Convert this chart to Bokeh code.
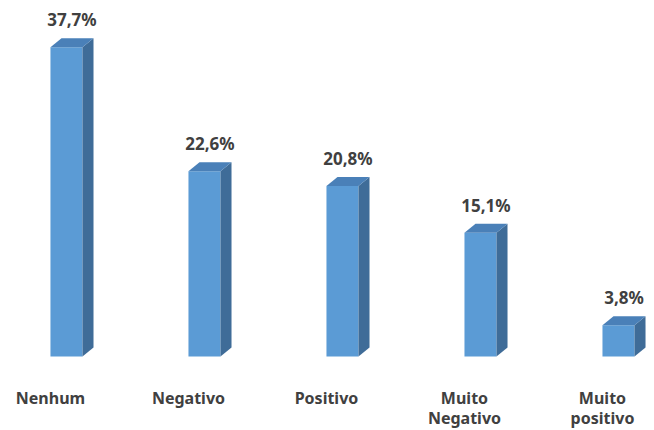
from bokeh.plotting import figure
from bokeh.models import ColumnDataSource, Range1d
from bokeh.embed import file_html
from bokeh.resources import INLINE
from bokeh.core.properties import value

categories = ["Nenhum", "Negativo", "Positivo", "Muito\nNegativo", "Muito\npositivo"]
values = [37.7, 22.6, 20.8, 15.1, 3.8]
labels = ["37,7%", "22,6%", "20,8%", "15,1%", "3,8%"]

W, H = 654, 430
p = figure(width=W, height=H, output_backend="svg", toolbar_location=None,
           x_range=Range1d(-0.478, 4.261), y_range=Range1d(-9.02, 43.41),
           min_border=0, outline_line_color=None)
p.xaxis.visible = False
p.yaxis.visible = False
p.xgrid.visible = False
p.ygrid.visible = False
p.background_fill_color = "white"
p.border_fill_color = "white"

xs = list(range(len(values)))
hw = 0.116   # half bar width (data units)
dx = 0.08    # depth, x
dy = 1.1     # depth, y

front = ColumnDataSource(dict(l=[x - hw for x in xs], r=[x + hw for x in xs],
                              t=values, b=[0] * len(values)))
p.quad(left="l", right="r", top="t", bottom="b", source=front,
       fill_color="#5B9BD5", line_color=None)

side_x = [[x + hw, x + hw + dx, x + hw + dx, x + hw] for x in xs]
side_y = [[0, dy, v + dy, v] for v in values]
p.patches(side_x, side_y, fill_color="#3F6C98", line_color=None)

top_x = [[x - hw, x + hw, x + hw + dx, x - hw + dx] for x in xs]
top_y = [[v, v, v + dy, v + dy] for v in values]
p.patches(top_x, top_y, fill_color="#4A80B8", line_color=None)

lab = ColumnDataSource(dict(x=[x + dx / 2 for x in xs], y=[v + dy for v in values], t=labels))
p.text(x="x", y="y", text="t", source=lab, text_align="center", text_baseline="bottom",
       y_offset=-7, text_font=value("Noto Sans"), text_font_style="bold",
       text_font_size="17px", text_color="#404040")

cat = ColumnDataSource(dict(x=xs, y=[0] * len(xs), t=categories))
p.text(x="x", y="y", text="t", source=cat, text_align="center", text_baseline="top",
       x_offset=-16, y_offset=30, text_font=value("Noto Sans"), text_font_style="bold",
       text_font_size="16px", text_color="#404040", text_line_height=0.95)

open("out.html", "w").write(file_html(p, INLINE))
